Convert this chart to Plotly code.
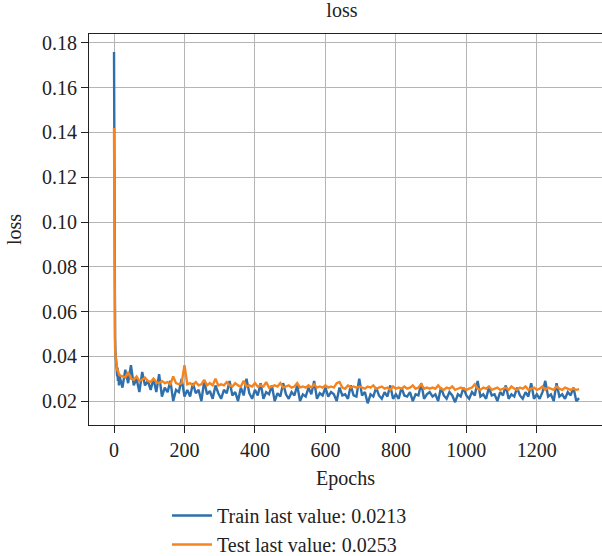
import plotly.graph_objects as go

early_epochs = [0, 1, 2, 3, 4, 5, 6, 7, 8, 9, 10, 11, 12, 13, 14, 15]
late_epochs = list(range(16, 1321, 8))
epochs = early_epochs + late_epochs

train_early = [0.176, 0.071, 0.056, 0.048, 0.042, 0.040, 0.036, 0.038, 0.033, 0.031,
               0.035, 0.029, 0.032, 0.030, 0.027, 0.031]
test_early = [0.142, 0.072, 0.050, 0.044, 0.041, 0.039, 0.037, 0.036, 0.035, 0.034,
              0.034, 0.033, 0.033, 0.0325, 0.032, 0.032]

train_late = [
    0.031, 0.026, 0.034, 0.028, 0.036, 0.027, 0.030, 0.024, 0.033, 0.027, 0.029,
    0.025, 0.030, 0.024, 0.032, 0.022, 0.026, 0.024, 0.029, 0.020, 0.025, 0.024, 0.030, 0.022,
    0.025, 0.022, 0.028, 0.0235, 0.025, 0.020, 0.029, 0.023, 0.0245, 0.021, 0.027, 0.0235,
    0.021, 0.025, 0.0235, 0.029, 0.0225, 0.024, 0.020, 0.026, 0.0225, 0.030, 0.0235, 0.021, 0.025,
    0.0225, 0.028, 0.021, 0.024, 0.023, 0.027, 0.020, 0.0235, 0.022, 0.028, 0.023, 0.021,
    0.024, 0.0225, 0.027, 0.020, 0.023, 0.022, 0.026, 0.023, 0.029, 0.021, 0.0235, 0.0225, 0.026,
    0.022, 0.024, 0.023, 0.020, 0.026, 0.0225, 0.023, 0.021, 0.027, 0.0225, 0.022, 0.030,
    0.0225, 0.024, 0.019, 0.023, 0.022, 0.026, 0.0225, 0.021, 0.024, 0.022, 0.027, 0.021, 0.023,
    0.021, 0.026, 0.0225, 0.022, 0.024, 0.020, 0.023, 0.0225, 0.028, 0.021, 0.023, 0.024,
    0.022, 0.023, 0.020, 0.026, 0.0225, 0.021, 0.024, 0.0225, 0.0195, 0.023, 0.022, 0.026, 0.0225,
    0.021, 0.024, 0.0225, 0.029, 0.022, 0.023, 0.021, 0.026, 0.0225, 0.023, 0.020, 0.024,
    0.0225, 0.027, 0.021, 0.023, 0.022, 0.026, 0.0225, 0.021, 0.024, 0.022, 0.028, 0.021, 0.023,
    0.021, 0.024, 0.029, 0.022, 0.023, 0.020, 0.028, 0.022, 0.023, 0.021, 0.024, 0.0225,
    0.026, 0.020, 0.0213,
]

test_late = [
    0.0315, 0.031, 0.0305, 0.033, 0.030, 0.0295, 0.031, 0.029, 0.0295, 0.0305, 0.029,
    0.0285, 0.030, 0.0285, 0.028, 0.029, 0.028, 0.0285, 0.0275, 0.031, 0.028, 0.0275, 0.028, 0.036,
    0.0275, 0.028, 0.027, 0.0285, 0.027, 0.0275, 0.0295, 0.027, 0.028, 0.027, 0.030, 0.027,
    0.0275, 0.027, 0.0285, 0.027, 0.0265, 0.028, 0.027, 0.0265, 0.029, 0.0265, 0.027, 0.0265, 0.028,
    0.0265, 0.027, 0.0265, 0.0285, 0.026, 0.0265, 0.027, 0.0265, 0.028, 0.026, 0.0265, 0.027,
    0.026, 0.0265, 0.028, 0.026, 0.0265, 0.026, 0.027, 0.026, 0.0275, 0.026, 0.0265, 0.026, 0.027,
    0.026, 0.0265, 0.026, 0.028, 0.0285, 0.026, 0.0255, 0.027, 0.026, 0.0265, 0.026, 0.0265,
    0.026, 0.0255, 0.0265, 0.026, 0.027, 0.0255, 0.026, 0.0265, 0.0255, 0.026, 0.025, 0.0265, 0.0255,
    0.026, 0.0255, 0.0265, 0.0255, 0.026, 0.027, 0.0255, 0.026, 0.0275, 0.0255, 0.026, 0.0255,
    0.026, 0.0255, 0.027, 0.0255, 0.025, 0.026, 0.0255, 0.0265, 0.025, 0.0255, 0.026, 0.0255, 0.025,
    0.0255, 0.026, 0.0275, 0.0255, 0.025, 0.026, 0.0255, 0.0265, 0.025, 0.0255, 0.026, 0.025,
    0.0255, 0.026, 0.025, 0.0265, 0.0255, 0.025, 0.026, 0.0255, 0.0265, 0.025, 0.0255, 0.026, 0.025,
    0.0255, 0.0265, 0.025, 0.026, 0.0255, 0.025, 0.0265, 0.0255, 0.025, 0.026, 0.0255, 0.025,
    0.0255, 0.025, 0.0253,
]

train_loss = train_early + train_late
test_loss = test_early + test_late

x_ticks = [0, 200, 400, 600, 800, 1000, 1200]
y_ticks = [0.02, 0.04, 0.06, 0.08, 0.10, 0.12, 0.14, 0.16, 0.18]
y_tick_text = ["0.02", "0.04", "0.06", "0.08", "0.10", "0.12", "0.14", "0.16", "0.18"]

train_name = "Train last value: 0.0213"
test_name = "Test last value: 0.0253"

FONT = "Liberation Serif"
TXT = "#222222"

fig = go.Figure()
fig.add_trace(go.Scatter(x=epochs, y=train_loss, mode="lines", name=train_name,
                         line=dict(color="#2f6fab", width=2.4)))
fig.add_trace(go.Scatter(x=epochs, y=test_loss, mode="lines", name=test_name,
                         line=dict(color="#f5841f", width=2.4)))

fig.update_layout(
    width=602, height=556,
    margin=dict(l=89, r=0, t=34, b=131, autoexpand=False),
    paper_bgcolor="white", plot_bgcolor="white",
    font=dict(family=FONT, size=20, color=TXT),
    title=dict(text="loss", xref="paper", x=0.493, xanchor="center",
               yref="container", y=0.995, yanchor="top",
               font=dict(family=FONT, size=20, color=TXT)),
    showlegend=True,
    legend=dict(x=0.152, xanchor="left", xref="paper",
                y=0.108, yanchor="top", yref="container",
                bgcolor="rgba(0,0,0,0)", font=dict(family=FONT, size=20, color=TXT),
                tracegroupgap=0, itemwidth=40),
)
fig.update_xaxes(
    range=[-71, 1385], tickvals=x_ticks, ticks="outside", ticklen=7, tickcolor=TXT,
    showline=True, linecolor=TXT, linewidth=1.2, mirror=True, automargin=False,
    showgrid=True, gridcolor="#b5b5b5", gridwidth=1, zeroline=False,
    title=dict(text="Epochs", standoff=10, font=dict(family=FONT, size=20)),
)
fig.update_yaxes(
    range=[0.0093, 0.184], tickvals=y_ticks, ticktext=y_tick_text, ticks="outside", ticklen=7,
    tickcolor=TXT, showline=True, linecolor=TXT, linewidth=1.2, automargin=False,
    showgrid=True, gridcolor="#b5b5b5", gridwidth=1, zeroline=False,
    title=dict(text="loss", standoff=14, font=dict(family=FONT, size=20)),
)

fig.write_html("out.html")
